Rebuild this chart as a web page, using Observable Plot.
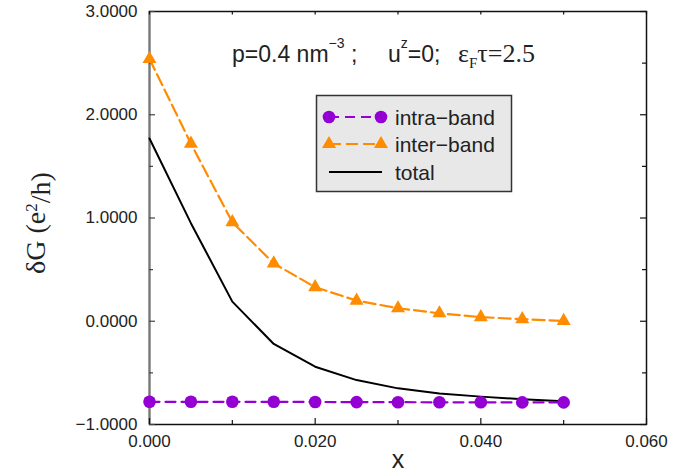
<!DOCTYPE html>
<html>
<head>
<meta charset="utf-8">
<script src="https://cdn.jsdelivr.net/npm/d3@7"></script>
<script src="https://cdn.jsdelivr.net/npm/@observablehq/plot@0.6"></script>
<style>
  html, body { margin: 0; padding: 0; background: #fff; }
  #chart { position: relative; width: 697px; height: 474px; }
</style>
</head>
<body>
<div id="chart"></div>
<script>
// ---- data ----
const xValues = [0, 0.005, 0.010, 0.015, 0.020, 0.025, 0.030, 0.035, 0.040, 0.045, 0.050];
const intraBand = [-0.78, -0.78, -0.78, -0.78, -0.782, -0.783, -0.784, -0.785, -0.785, -0.786, -0.786];
const interBand = [2.54, 1.72, 0.96, 0.56, 0.33, 0.20, 0.126, 0.077, 0.04, 0.02, 0.003];
const totalBand = [1.77, 0.95, 0.19, -0.22, -0.44, -0.57, -0.65, -0.70, -0.73, -0.755, -0.775];

const seriesNames = ["intra\u2212band", "inter\u2212band", "total"];
const seriesColors = ["#9400D3", "#FF8C00", "#000000"];

const yMajorTicks = [-1, 0, 1, 2, 3];
const yMinorTicks = [-0.5, 0.5, 1.5, 2.5];
const xMajorTicks = [0, 0.02, 0.04, 0.06];
const xMinorTicks = [0.01, 0.03, 0.05];
const xTopTicks = [0, 0.01, 0.02, 0.03, 0.04, 0.05, 0.06];

const intraData = xValues.map((x, i) => ({x, y: intraBand[i]}));
const interData = xValues.map((x, i) => ({x, y: interBand[i]}));
const totalData = xValues.map((x, i) => ({x, y: totalBand[i]}));

const sans = "'Liberation Sans', Arial, Helvetica, sans-serif";
const serif = "'Liberation Serif', 'Times New Roman', serif";

const W = 697, H = 474, ML = 149, MR = 51, MT = 11, MB = 50;
const PW = W - ML - MR, PH = H - MT - MB;   // plot area size in px

const intraDash = "10,6";
const interDash = "12,5";

const chart = Plot.plot({
  width: W,
  height: H,
  marginLeft: ML,
  marginRight: MR,
  marginTop: MT,
  marginBottom: MB,
  style: {fontFamily: sans, fontSize: "17px", color: "#222", background: "#fff"},
  x: {domain: [0, 0.06]},
  y: {domain: [-1, 3]},
  marks: [
    // frame
    Plot.frame({stroke: "#111", strokeWidth: 1.5}),
    Plot.ruleX([0], {stroke: "#7a7a7a", strokeWidth: 2}),
    // tick labels
    Plot.axisY({anchor: "left", ticks: yMajorTicks, tickSize: 0, tickPadding: 12,
      tickFormat: d3.format(".4f"), label: null, fontSize: 17, fill: "#222"}),
    Plot.axisX({anchor: "bottom", ticks: xMajorTicks, tickSize: 0, tickPadding: 10,
      tickFormat: d3.format(".3f"), label: null, fontSize: 17, fill: "#222"}),
    // inward ticks: left
    Plot.tickY(yMajorTicks, {y: d => d, insetRight: PW - 6, stroke: "#444", strokeWidth: 1.2}),
    Plot.tickY(yMinorTicks, {y: d => d, insetRight: PW - 4, stroke: "#444", strokeWidth: 1.2}),
    // right
    Plot.tickY(yMajorTicks, {y: d => d, insetLeft: PW - 6, stroke: "#111", strokeWidth: 1.2}),
    Plot.tickY(yMinorTicks, {y: d => d, insetLeft: PW - 4, stroke: "#111", strokeWidth: 1.2}),
    // bottom
    Plot.tickX(xMajorTicks, {x: d => d, insetTop: PH - 6, stroke: "#111", strokeWidth: 1.2}),
    Plot.tickX(xMinorTicks, {x: d => d, insetTop: PH - 4, stroke: "#111", strokeWidth: 1.2}),
    // top
    Plot.tickX(xTopTicks, {x: d => d, insetBottom: PH - 3.5, stroke: "#111", strokeWidth: 1.2}),
    // series
    Plot.line(totalData, {x: "x", y: "y", stroke: seriesColors[2], strokeWidth: 2}),
    Plot.line(interData, {x: "x", y: "y", stroke: seriesColors[1], strokeWidth: 2.2, strokeDasharray: interDash}),
    Plot.dot(interData, {x: "x", y: "y", symbol: "triangle", r: 5.2, fill: seriesColors[1], stroke: "none"}),
    Plot.line(intraData, {x: "x", y: "y", stroke: seriesColors[0], strokeWidth: 2.2, strokeDasharray: intraDash}),
    Plot.dot(intraData, {x: "x", y: "y", symbol: "circle", r: 6.3, fill: seriesColors[0], stroke: "none"})
  ]
});

document.getElementById("chart").appendChild(chart);

// ---- text annotations and legend added into the same SVG ----
const svg = d3.select(chart);

// x axis label
svg.append("text")
  .attr("x", 398).attr("y", 468)
  .attr("text-anchor", "middle")
  .style("font-family", sans).style("font-size", "25px").style("fill", "#222")
  .text("x");

// y axis label: δG (e²/h)
const yl = svg.append("text")
  .attr("transform", "translate(45,223) rotate(-90)")
  .attr("text-anchor", "middle")
  .style("font-family", serif).style("font-size", "28px").style("fill", "#222");
yl.append("tspan").text("\u03B4G (e");
yl.append("tspan").attr("dy", "-0.45em").style("font-size", "17px").text("2");
yl.append("tspan").attr("dy", "0.45em").text("/h)");

// annotation
const ann = svg.append("g").attr("text-anchor", "start").style("fill", "#222");
const a1 = ann.append("text").attr("x", 232).attr("y", 62)
  .style("font-family", sans).style("font-size", "23px");
a1.append("tspan").text("p=0.4 nm");
a1.append("tspan").attr("dy", -14).style("font-size", "14px").text("\u22123");
a1.append("tspan").attr("dy", 14).text(" ;");
const a2 = ann.append("text").attr("x", 388).attr("y", 62)
  .style("font-family", sans).style("font-size", "23px");
a2.append("tspan").text("u");
a2.append("tspan").attr("dy", -14).style("font-size", "14px").text("z");
a2.append("tspan").attr("dy", 14).text("=0;");
const a3 = ann.append("text").attr("x", 458).attr("y", 62)
  .style("font-family", serif).style("font-size", "26px");
a3.append("tspan").text("\u03B5");
a3.append("tspan").attr("dy", 6).style("font-size", "15px").text("F");
a3.append("tspan").attr("dy", -6).text("\u03C4=2.5");

// legend
const lg = svg.append("g").attr("text-anchor", "start");
lg.append("rect").attr("x", 316.5).attr("y", 95.5).attr("width", 195).attr("height", 96)
  .attr("fill", "#e8e8e8").attr("stroke", "#333").attr("stroke-width", 1.5);
const rowY = [117, 144, 172];
const dashes = [intraDash, interDash, null];
seriesNames.forEach((name, i) => {
  const y = rowY[i];
  lg.append("line").attr("x1", 329).attr("x2", 382).attr("y1", y).attr("y2", y)
    .attr("stroke", seriesColors[i]).attr("stroke-width", 2)
    .attr("stroke-dasharray", dashes[i]);
  if (i === 0) {
    [329, 381].forEach(cx => lg.append("circle").attr("cx", cx).attr("cy", y).attr("r", 6.3).attr("fill", seriesColors[i]));
  } else if (i === 1) {
    const tri = d3.symbol(d3.symbolTriangle, Math.PI * 27)();
    [329, 381].forEach(cx => lg.append("path").attr("d", tri)
      .attr("transform", `translate(${cx},${y})`).attr("fill", seriesColors[i]));
  }
  lg.append("text").attr("x", 395).attr("y", y + 7.5)
    .style("font-family", sans).style("font-size", "21px").style("fill", "#222")
    .text(name);
});
</script>
</body>
</html>
